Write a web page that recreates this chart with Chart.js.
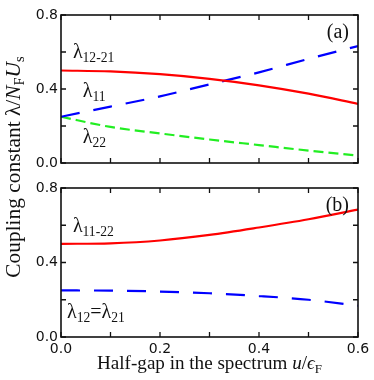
<!DOCTYPE html>
<html><head><meta charset="utf-8">
<script src="https://cdn.jsdelivr.net/npm/chart.js@4.4.1/dist/chart.umd.min.js"></script>
<style>
html,body{margin:0;padding:0;background:#fff;}
#wrap{position:relative;width:374px;height:380px;}
#wrap canvas{position:absolute;left:0;top:0;}
</style></head><body>
<div id="wrap"><canvas id="c1" width="374" height="380"></canvas><canvas id="c2" width="374" height="380"></canvas></div>
<script>
const uValues = [0, 0.1, 0.2, 0.3, 0.4, 0.5, 0.6];
// panel (a)
const lambda12_21 = [0.50, 0.495, 0.48, 0.455, 0.42, 0.375, 0.32];
const lambda11 = [0.25, 0.305, 0.36, 0.425, 0.49, 0.563, 0.632];
const lambda22 = [0.25, 0.195, 0.16, 0.127, 0.097, 0.067, 0.04];
// panel (b)
const lambda11_22 = [0.50, 0.503, 0.518, 0.548, 0.588, 0.632, 0.684];
const lambda12eq21 = [0.25, 0.249, 0.244, 0.235, 0.22, 0.2, 0.168];
const xTickLabels = ['0.0', '0.2', '0.4', '0.6'];
const yTickLabels = ['0.0', '0.4', '0.8'];

const SERIF = '"Liberation Serif", "DejaVu Serif", serif';
const SANS = '"DejaVu Sans", sans-serif';

function pts(ys){ return uValues.map((x,i)=>({x:x,y:ys[i]})); }

function setFont(ctx, k, size){
  if (k === 's') ctx.font = (size*0.68).toFixed(1)+'px '+SERIF;
  else if (k === 'i') ctx.font = 'italic '+size.toFixed(1)+'px '+SERIF;
  else ctx.font = size.toFixed(1)+'px '+SERIF;
}
function drawSub(ctx, parts, x, y, size){
  let cx = x;
  for (const [t, k] of parts){
    setFont(ctx, k, size);
    ctx.fillText(t, cx, k === 's' ? y + size*0.2 : y);
    cx += ctx.measureText(t).width;
  }
  return cx - x;
}
function measureParts(ctx, parts, size){
  let w = 0;
  for (const [t,k] of parts){ setFont(ctx, k, size); w += ctx.measureText(t).width; }
  return w;
}

function framePlugin(labels, panelTag, extra){
  return {
    id:'frame'+panelTag,
    afterDatasetsDraw(chart){
      const ctx = chart.ctx, a = chart.chartArea;
      const xs = chart.scales.x, ys = chart.scales.y;
      ctx.save();
      ctx.strokeStyle = '#111'; ctx.lineWidth = 1.6;
      ctx.strokeRect(a.left, a.top, a.right-a.left, a.bottom-a.top);
      ctx.lineWidth = 1.3;
      const L = 5;
      ctx.beginPath();
      for (let v=0; v<=0.6001; v+=0.1){
        const px = xs.getPixelForValue(v);
        ctx.moveTo(px, a.bottom); ctx.lineTo(px, a.bottom-L);
        ctx.moveTo(px, a.top); ctx.lineTo(px, a.top+L);
      }
      for (let v=0; v<=0.8001; v+=0.2){
        const py = ys.getPixelForValue(v);
        ctx.moveTo(a.left, py); ctx.lineTo(a.left+L, py);
        ctx.moveTo(a.right, py); ctx.lineTo(a.right-L, py);
      }
      ctx.stroke();
      ctx.fillStyle = '#111';
      ctx.textBaseline = 'alphabetic'; ctx.textAlign = 'left';
      for (const lb of labels){
        drawSub(ctx, lb.parts, xs.getPixelForValue(lb.x), ys.getPixelForValue(lb.y), lb.size||20);
      }
      ctx.font = '20px '+SERIF;
      ctx.textAlign = 'right';
      ctx.fillText(panelTag, a.right-9, a.top+23);
      ctx.textAlign = 'left';
      if (extra) extra(chart);
      ctx.restore();
    }
  };
}

function axisTitles(chart){
  const ctx = chart.ctx;
  ctx.fillStyle = '#111';
  ctx.textAlign = 'left'; ctx.textBaseline = 'alphabetic';
  // x title, sized to span about 225px like the reference
  const xParts = [['Half-gap in the spectrum ','n'],['u','i'],['/','n'],['ϵ','i'],['F','s']];
  let s = 15 * 225 / measureParts(ctx, xParts, 15);
  let w = measureParts(ctx, xParts, s);
  drawSub(ctx, xParts, 209.5 - w/2, 369, s);
  // y title
  const yParts = [['Coupling constant ','n'],['λ','n'],['/','n'],['N','i'],['F','s'],['U','i'],['s','s']];
  s = 15 * 221 / measureParts(ctx, yParts, 15);
  w = measureParts(ctx, yParts, s);
  ctx.save();
  ctx.translate(20, 167);
  ctx.rotate(-Math.PI/2);
  drawSub(ctx, yParts, -w/2, 0, s);
  ctx.restore();
}

function makeOptions(showX, xHeight, padTop){
  return {
    responsive:false, animation:false,
    layout:{padding:{left:0, right:16, top:padTop, bottom:0}},
    plugins:{legend:{display:false}, tooltip:{enabled:false}},
    elements:{point:{radius:0}},
    scales:{
      x:{type:'linear', min:0, max:0.6,
         grid:{display:false, drawTicks:false}, border:{display:false},
         ticks:{display:showX, stepSize:0.2, padding:4, color:'#111', font:{family:SANS, size:14},
                maxRotation:0, callback:(v)=>{const i=Math.round(v/0.2); return xTickLabels[i]||'';}},
         afterFit:(s)=>{s.height = xHeight;}},
      y:{min:0, max:0.8,
         grid:{display:false, drawTicks:false}, border:{display:false},
         ticks:{stepSize:0.2, padding:3, color:'#111', font:{family:SANS, size:14},
                callback:(v)=>{const r=Math.round(v*10)/10; const i=[0,0.4,0.8].indexOf(r); return i>=0?yTickLabels[i]:'';}},
         afterFit:(s)=>{s.width = 61;}}
    }
  };
}

new Chart(document.getElementById('c1'), {
  type:'line',
  data:{datasets:[
    {data:pts(lambda12_21), borderColor:'#ff0000', borderWidth:2.2, cubicInterpolationMode:'monotone'},
    {data:pts(lambda11), borderColor:'#0000ff', borderWidth:2.2, borderDash:[19,14], cubicInterpolationMode:'monotone'},
    {data:pts(lambda22), borderColor:'#22ee22', borderWidth:2.2, borderDash:[10,5], cubicInterpolationMode:'monotone'}
  ]},
  options:makeOptions(false, 217, 15),
  plugins:[framePlugin([
    {x:0.024, y:0.565, parts:[['λ','n'],['12-21','s']]},
    {x:0.044, y:0.355, parts:[['λ','n'],['11','s']]},
    {x:0.044, y:0.108, parts:[['λ','n'],['22','s']]}
  ], '(a)')]
});

new Chart(document.getElementById('c2'), {
  type:'line',
  data:{datasets:[
    {data:pts(lambda11_22), borderColor:'#ff0000', borderWidth:2.2, cubicInterpolationMode:'monotone'},
    {data:pts(lambda12eq21), borderColor:'#0000ff', borderWidth:2.2, borderDash:[19,14], cubicInterpolationMode:'monotone'}
  ]},
  options:makeOptions(true, 43, 188),
  plugins:[framePlugin([
    {x:0.024, y:0.565, parts:[['λ','n'],['11-22','s']]},
    {x:0.012, y:0.1, parts:[['λ','n'],['12','s'],['=λ','n'],['21','s']]}
  ], '(b)', axisTitles)]
});
</script>
</body></html>
